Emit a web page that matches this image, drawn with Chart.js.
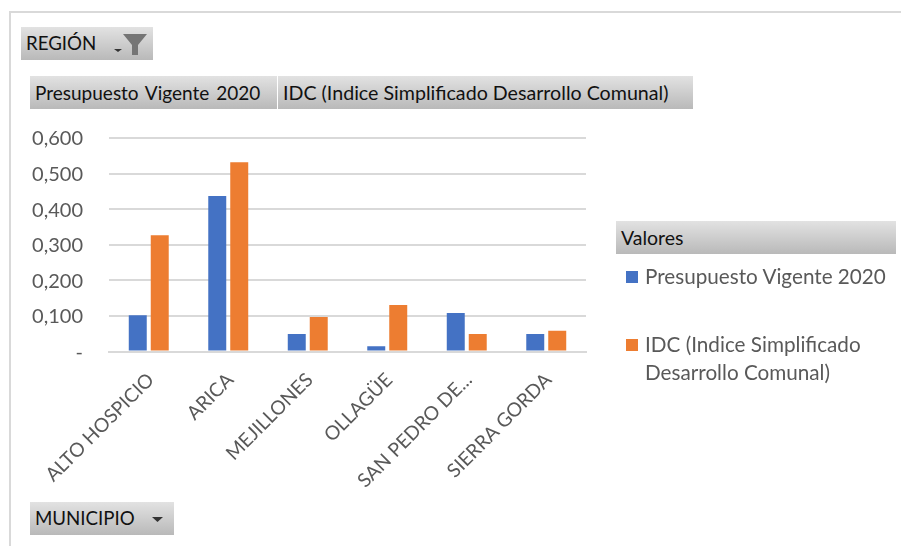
<!DOCTYPE html>
<html lang="es">
<head>
<meta charset="utf-8">
<title>Presupuesto Vigente 2020 e IDC por municipio</title>
<script src="https://cdn.jsdelivr.net/npm/chart.js@4"></script>
<style>
  html, body { margin: 0; padding: 0; background: #fff; }
  body { width: 901px; height: 546px; overflow: hidden; position: relative; font-family: Lato, sans-serif; }
  #frame { position: absolute; left: 9px; top: 11px; width: 900px; height: 600px; border: 2px solid #d9d9d9; box-sizing: border-box; }
  #chartBox { position: absolute; left: 0; top: 0; width: 901px; height: 546px; }
  .pivot-btn {
    position: absolute; height: 33px; line-height: 33px; box-sizing: border-box; padding-left: 5px;
    font-size: 19.5px; color: #111; white-space: nowrap;
    background: linear-gradient(#e2e2e2, #b9b9b9);
  }
  .pivot-btn svg { position: absolute; top: 0; }
  .legend-item { position: absolute; left: 626px; font-size: 20.7px; line-height: 28px; color: #595959; white-space: nowrap; }
  .legend-item i { position: absolute; left: 0; top: 9px; width: 12px; height: 12px; }
  .legend-item span { display: block; margin-left: 19px; }
</style>
</head>
<body>
<div id="frame"></div>
<div id="chartBox"><canvas id="budgetChart" width="901" height="546"></canvas></div>

<div class="pivot-btn" style="left:21px;top:27px;width:132px;font-size:18.7px">REGIÓN
  <svg style="left:90px" width="42" height="33" viewBox="0 0 42 33">
    <path d="M3 22h8l-4 3z" fill="#333"/>
    <path d="M12 7h24l-9 11v10h-6V18z" fill="#757575"/>
  </svg>
</div>
<div class="pivot-btn" style="left:30px;top:76px;width:247px;font-size:19px;word-spacing:2px">Presupuesto Vigente 2020</div>
<div class="pivot-btn" style="left:278px;top:76px;width:415px;font-size:19.65px">IDC (Indice Simplificado Desarrollo Comunal)</div>
<div class="pivot-btn" style="left:616px;top:221px;width:280px">Valores</div>
<div class="pivot-btn" style="left:30px;top:502px;width:144px;font-size:18.7px">MUNICIPIO
  <svg style="left:120px" width="20" height="33" viewBox="0 0 20 33">
    <path d="M2 15h11l-5.5 5z" fill="#333"/>
  </svg>
</div>
<div id="legendBox"></div>

<script>
const MUNICIPIOS = ['ALTO HOSPICIO', 'ARICA', 'MEJILLONES', 'OLLAGÜE', 'SAN PEDRO DE...', 'SIERRA GORDA'];
const PRESUPUESTO = [0.102, 0.437, 0.049, 0.015, 0.108, 0.049];
const IDC = [0.327, 0.532, 0.097, 0.131, 0.049, 0.058];
const Y_TICK_LABELS = ['-', '0,100', '0,200', '0,300', '0,400', '0,500', '0,600'];
const SERIES_NAMES = ['Presupuesto Vigente 2020', 'IDC (Indice Simplificado Desarrollo Comunal)'];
const SERIES_COLORS = ['#4472c4', '#ed7d31'];

// legend is plain html so the long name can wrap like in the original
const legendBox = document.getElementById('legendBox');
legendBox.innerHTML = `
  <div class="legend-item" style="top:262px"><i style="background:${SERIES_COLORS[0]}"></i><span>${SERIES_NAMES[0]}</span></div>
  <div class="legend-item" style="top:330px"><i style="background:${SERIES_COLORS[1]}"></i><span>IDC (Indice Simplificado<br>Desarrollo Comunal)</span></div>`;

new Chart(document.getElementById('budgetChart'), {
  type: 'bar',
  data: {
    labels: MUNICIPIOS,
    datasets: [
      { label: SERIES_NAMES[0], data: PRESUPUESTO, backgroundColor: SERIES_COLORS[0] },
      { label: SERIES_NAMES[1], data: IDC, backgroundColor: SERIES_COLORS[1] },
    ],
  },
  options: {
    responsive: false,
    animation: false,
    layout: { padding: { left: 0, top: 138, right: 315, bottom: 0 } },
    datasets: { bar: { barPercentage: 0.818, categoryPercentage: 0.553 } },
    plugins: { legend: { display: false }, tooltip: { enabled: false } },
    scales: {
      x: {
        afterFit: (s) => { s.height = 194.5; },
        grid: { display: false },
        border: { color: '#d9d9d9', width: 2 },
        ticks: {
          color: '#595959', font: { family: 'Lato, sans-serif', size: 19.3 },
          minRotation: 45, maxRotation: 45, autoSkip: false, padding: 9, labelOffset: 2,
        },
      },
      y: {
        min: 0, max: 0.6,
        afterFit: (s) => { s.width = 109; },
        grid: { color: '#d9d9d9', lineWidth: 2, drawTicks: false },
        border: { display: false },
        ticks: {
          stepSize: 0.1, color: '#595959', font: { family: 'Lato, sans-serif', size: 20 }, padding: 26, labelOffset: 1,
          callback: (v, i) => Y_TICK_LABELS[i],
        },
      },
    },
  },
});
</script>
</body>
</html>
